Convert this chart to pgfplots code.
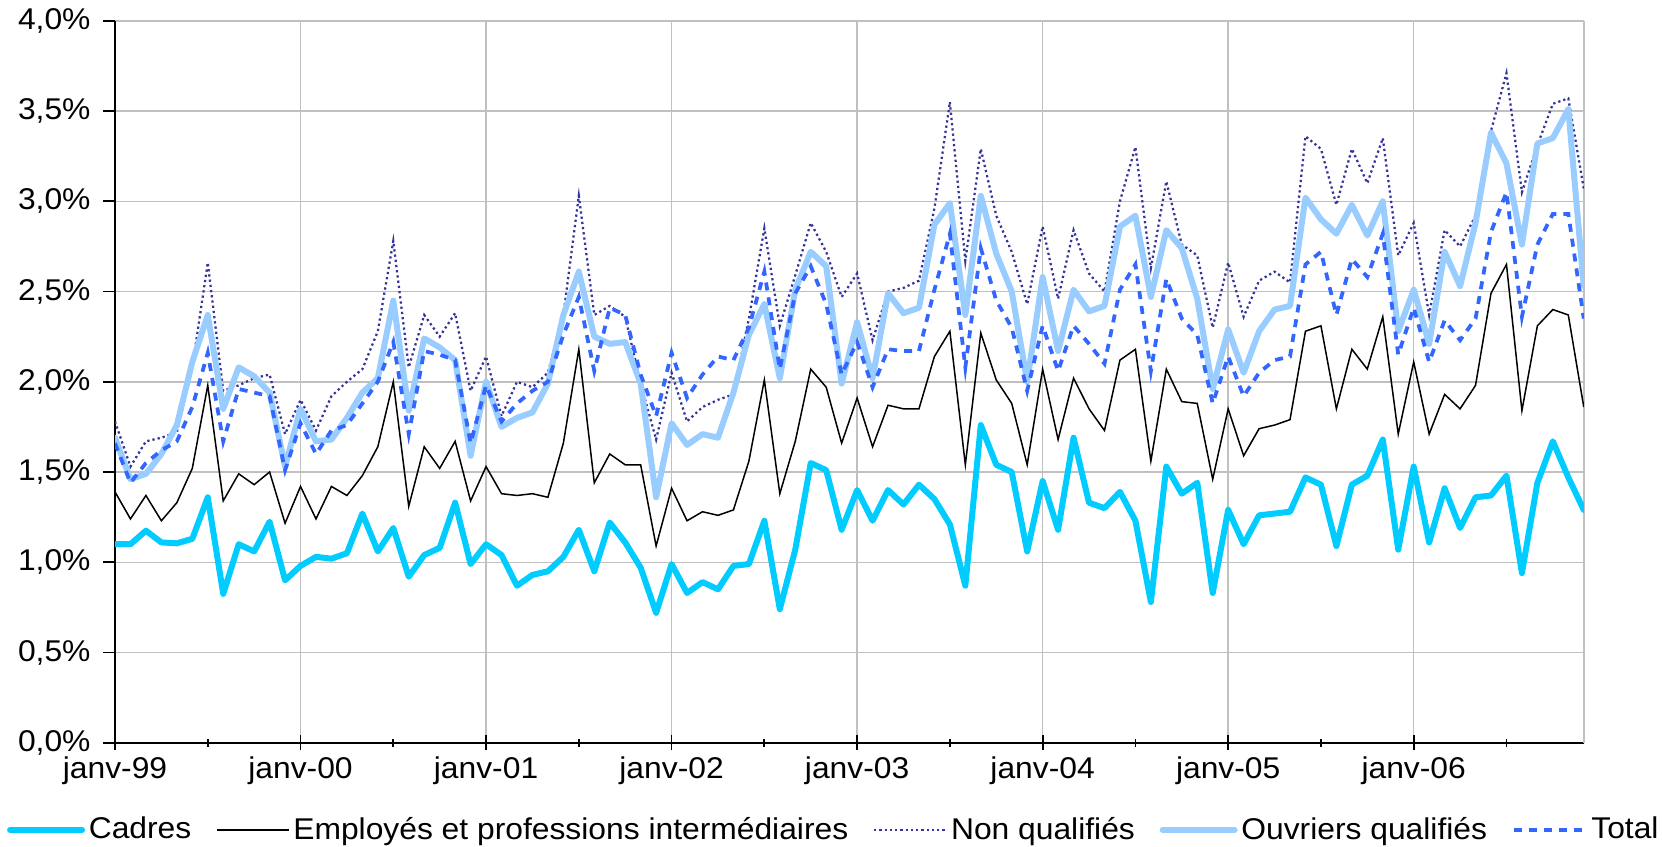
\documentclass[border=0pt]{standalone}
\usepackage{pgfplots}
\pgfplotsset{compat=1.18}
\usepackage{pgfplotstable}
\usepackage{fontspec}
\setmainfont{Liberation Sans}[FakeStretch=1.06]

\definecolor{cadres}{RGB}{0,204,255}
\definecolor{nonqual}{RGB}{51,51,153}
\definecolor{ouvriers}{RGB}{153,204,255}
\definecolor{total}{RGB}{51,102,255}
\definecolor{gridgray}{RGB}{192,192,192}

% m = mois depuis janv-99 ; taux en %
\pgfplotstableread{
m C E N O T
0 1.10 1.39 1.78 1.69 1.66
1 1.10 1.24 1.53 1.46 1.44
2 1.175 1.37 1.67 1.49 1.55
3 1.11 1.23 1.69 1.60 1.62
4 1.105 1.33 1.72 1.76 1.67
5 1.13 1.52 2.08 2.11 1.86
6 1.36 1.98 2.66 2.37 2.16
7 0.825 1.34 1.95 1.85 1.67
8 1.10 1.49 1.98 2.08 1.96
9 1.06 1.43 2.02 2.03 1.94
10 1.225 1.50 2.04 1.94 1.92
11 0.90 1.216 1.71 1.53 1.51
12 0.98 1.42 1.90 1.85 1.77
13 1.03 1.24 1.73 1.67 1.60
14 1.02 1.42 1.92 1.68 1.73
15 1.05 1.37 2.00 1.80 1.76
16 1.27 1.48 2.07 1.94 1.88
17 1.06 1.64 2.28 2.02 2.00
18 1.19 2.00 2.78 2.45 2.22
19 0.92 1.31 2.08 1.84 1.71
20 1.04 1.64 2.37 2.24 2.17
21 1.08 1.52 2.25 2.19 2.15
22 1.33 1.67 2.38 2.12 2.12
23 0.99 1.34 1.95 1.59 1.66
24 1.10 1.53 2.14 2.00 1.98
25 1.04 1.38 1.81 1.75 1.78
26 0.87 1.37 2.00 1.80 1.88
27 0.93 1.38 1.97 1.83 1.95
28 0.95 1.36 2.05 1.99 2.00
29 1.03 1.66 2.37 2.37 2.26
30 1.18 2.18 3.03 2.61 2.47
31 0.95 1.44 2.37 2.25 2.06
32 1.22 1.60 2.42 2.21 2.41
33 1.11 1.54 2.36 2.22 2.37
34 0.97 1.54 1.99 1.99 2.04
35 0.72 1.09 1.68 1.36 1.81
36 0.99 1.41 2.05 1.77 2.16
37 0.83 1.23 1.78 1.65 1.91
38 0.89 1.28 1.86 1.71 2.04
39 0.85 1.26 1.90 1.69 2.14
40 0.98 1.29 1.93 1.94 2.12
41 0.99 1.56 2.35 2.26 2.30
42 1.23 2.01 2.85 2.43 2.61
43 0.74 1.38 2.31 2.02 2.07
44 1.07 1.67 2.59 2.51 2.49
45 1.55 2.07 2.88 2.72 2.64
46 1.51 1.97 2.72 2.64 2.43
47 1.18 1.66 2.47 1.99 2.04
48 1.40 1.91 2.60 2.33 2.22
49 1.23 1.64 2.23 2.02 1.97
50 1.40 1.87 2.50 2.49 2.18
51 1.32 1.85 2.52 2.38 2.17
52 1.43 1.85 2.56 2.41 2.17
53 1.35 2.14 2.96 2.87 2.51
54 1.21 2.28 3.55 2.99 2.82
55 0.87 1.54 2.67 2.37 2.08
56 1.76 2.27 3.29 3.03 2.74
57 1.54 2.01 2.92 2.71 2.45
58 1.50 1.88 2.72 2.50 2.30
59 1.06 1.54 2.43 2.00 1.95
60 1.45 2.07 2.86 2.58 2.31
61 1.18 1.68 2.46 2.17 2.06
62 1.69 2.02 2.84 2.51 2.31
63 1.33 1.85 2.60 2.39 2.21
64 1.30 1.73 2.50 2.42 2.10
65 1.39 2.12 3.00 2.86 2.51
66 1.23 2.18 3.30 2.92 2.65
67 0.78 1.56 2.63 2.47 2.06
68 1.53 2.07 3.11 2.84 2.57
69 1.38 1.89 2.76 2.74 2.35
70 1.44 1.88 2.70 2.46 2.26
71 0.83 1.46 2.30 1.96 1.88
72 1.29 1.85 2.66 2.29 2.14
73 1.10 1.59 2.36 2.05 1.92
74 1.26 1.74 2.56 2.28 2.05
75 1.27 1.76 2.61 2.40 2.12
76 1.28 1.79 2.55 2.42 2.14
77 1.47 2.28 3.36 3.02 2.65
78 1.43 2.31 3.29 2.90 2.72
79 1.09 1.85 2.98 2.82 2.37
80 1.43 2.18 3.29 2.98 2.68
81 1.48 2.07 3.10 2.81 2.58
82 1.68 2.36 3.35 3.00 2.82
83 1.07 1.71 2.70 2.28 2.15
84 1.53 2.11 2.88 2.51 2.41
85 1.11 1.71 2.37 2.21 2.11
86 1.41 1.93 2.84 2.72 2.34
87 1.19 1.85 2.75 2.53 2.23
88 1.36 1.98 2.92 2.88 2.35
89 1.37 2.49 3.39 3.38 2.83
90 1.48 2.65 3.71 3.21 3.05
91 0.94 1.84 3.05 2.76 2.36
92 1.44 2.31 3.31 3.32 2.76
93 1.67 2.40 3.54 3.35 2.93
94 1.47 2.37 3.57 3.51 2.93
95 1.29 1.86 3.07 2.53 2.35
}\data

\begin{document}
\begin{tikzpicture}
\begin{axis}[
    name=ax,
    scale only axis,
    width=587.5pt, height=288.8pt,
    xmin=0, xmax=95, ymin=0, ymax=4,
    axis lines*=left,
    axis line style={-, black, line width=0.7pt},
    xtick={0,12,...,84},
    xticklabels={janv-99,janv-00,janv-01,janv-02,janv-03,janv-04,janv-05,janv-06},
    minor xtick={6,18,...,90},
    extra x ticks={95},
    extra x tick labels={},
    extra x tick style={grid=major, xtick style={/pgfplots/major tick length=0pt}},
    ytick={0,0.5,...,4},
    yticklabels={{0,0\%},{0,5\%},{1,0\%},{1,5\%},{2,0\%},{2,5\%},{3,0\%},{3,5\%},{4,0\%}},
    grid=major,
    major grid style={draw=gridgray, line width=0.6pt},
    xtick align=center,
    ytick align=outside,
    xtick style={black, line width=0.7pt, /pgfplots/major tick length=6pt, /pgfplots/minor tick length=3.2pt},
    ytick style={black, line width=0.7pt, /pgfplots/major tick length=4.8pt},
    tick label style={font=\fontsize{12}{14}\selectfont},
    yticklabel style={xshift=-2pt},
    legend columns=-1,
    legend style={at={(-0.0735,-0.1208)}, anchor=west, draw=none, fill=none,
        inner sep=0pt, outer sep=0pt, font=\fontsize{12}{14}\selectfont,
        /tikz/every even column/.append style={column sep=8.4pt},
        nodes={inner xsep=1.5pt, inner ysep=0pt}},
    legend image code/.code={\draw[#1] (0pt,0pt) -- (28.8pt,0pt);},
]
\addplot[cadres, line width=2.4pt, line join=round, line cap=round] table[x=m, y=C]{\data};
\addplot[black, line width=0.6pt] table[x=m, y=E]{\data};
\addplot[nonqual, line width=0.9pt, dash pattern=on 0.9pt off 1.2pt] table[x=m, y=N]{\data};
\addplot[ouvriers, line width=2.4pt, line join=round, line cap=round] table[x=m, y=O]{\data};
\addplot[total, line width=1.5pt, dash pattern=on 3.2pt off 2.8pt] table[x=m, y=T]{\data};
\legend{Cadres, Employés et professions intermédiaires, Non qualifiés, Ouvriers qualifiés, Total}
\end{axis}
\pgfresetboundingbox
\path[use as bounding box] ([xshift=-46pt, yshift=-41.3pt]ax.south west) rectangle ([xshift=31.7pt, yshift=8.3pt]ax.north east);
\end{tikzpicture}
\end{document}
